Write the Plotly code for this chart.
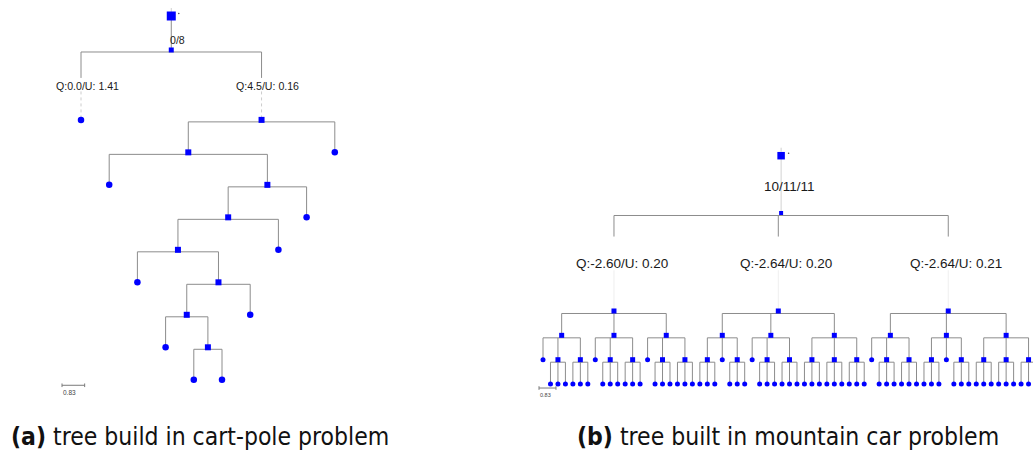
import plotly.graph_objects as go

W, H = 1033, 453

# ---------------- tree data ----------------
# Cart-pole search tree: children of every internal node (leaves are not keys).
CARTPOLE_CHILDREN = {
    "root": ["s"],
    "s": ["q0", "n1"],
    "n1": ["n2", "l1"],
    "n2": ["l2", "n3"],
    "n3": ["n4", "l3"],
    "n4": ["n5", "l4"],
    "n5": ["l5", "n6"],
    "n6": ["n7", "l6"],
    "n7": ["l7", "n8"],
    "n8": ["l8", "l9"],
}
CARTPOLE_LABELS = {"s": "0/8", "q0": "Q:0.0/U: 1.41", "n1": "Q:4.5/U: 0.16"}

# Mountain-car tree: three action nodes under the root; each action node has
# three children given by a pattern ("o" = leaf, "T" = node with three leaves).
MOUNTAIN_ROOT_LABEL = "10/11/11"
MOUNTAIN_ACTION_LABELS = ["Q:-2.60/U: 0.20", "Q:-2.64/U: 0.20", "Q:-2.64/U: 0.21"]
MOUNTAIN_PATTERNS = [["oTT", "oTT", "oTT"],
                     ["ToT", "oTT", "TTT"],
                     ["oTT", "ToT", "TTT"]]

SCALE_VALUE = 0.83      # value printed under the scale bar
BRANCH = 1.19           # distance of an unlabelled branch

CAPTIONS = [("(a)", "tree build in cart-pole problem"),
            ("(b)", "tree built in mountain car problem")]


def build_mountain():
    children = {"root": ["s"]}
    labels = {"s": MOUNTAIN_ROOT_LABEL}
    action_ids = []
    for i, pattern_row in enumerate(MOUNTAIN_PATTERNS):
        a = f"a{i}"
        action_ids.append(a)
        labels[a] = MOUNTAIN_ACTION_LABELS[i]
        children[a] = []
        for j, pattern in enumerate(pattern_row):
            b = f"a{i}_{j}"
            children[a].append(b)
            children[b] = []
            for k, ch in enumerate(pattern):
                c = f"{b}_{k}"
                children[b].append(c)
                if ch == "T":
                    children[c] = [f"{c}_{m}" for m in range(3)]
    children["s"] = action_ids
    return children, labels


MOUNTAIN_CHILDREN, MOUNTAIN_LABELS = build_mountain()

# ---------------- drawing parameters per panel ----------------
PANELS = [
    dict(children=CARTPOLE_CHILDREN, labels=CARTPOLE_LABELS,
         x_px0=81.0, x_step=28.2, y_px0=16.0, ppd=27.3,
         stem=1.245, face=2.56, solid=0.95, drop_px=2.0,
         node_size=6, leaf_size=6.5, root_size=9, s_size=5,
         font=10.6, root_font=10.6, text_dx=6, root_dy=-7.5, text_half=5.5,
         stem_color="#8c8c8c", ext=dict(color="#cccccc", width=1, dash="dot"),
         scale_dx=-19, scale_dy=5.5, scale_font=6.5),
    dict(children=MOUNTAIN_CHILDREN, labels=MOUNTAIN_LABELS,
         x_px0=543.0, x_step=7.47, y_px0=155.7, ppd=20.46,
         stem=2.80, face=4.79, solid=1.03, drop_px=2.5,
         node_size=5, leaf_size=5, root_size=7.5, s_size=4,
         font=13.5, root_font=13.5, text_dx=8, root_dy=-2.5, text_half=7,
         stem_color="#d2d2d2", ext=dict(color="#efefef", width=1),
         scale_dx=-4, scale_dy=4, scale_font=5.5),
]

LINE_COLOR = "#8c8c8c"
BLUE = "#0000ff"


def layout_tree(children, labels, stem, face):
    xs, ys = {}, {}
    counter = [0]

    def place(n, d):
        ys[n] = d
        kids = children.get(n, [])
        if not kids:
            xs[n] = float(counter[0])
            counter[0] += 1
            return
        for k in kids:
            if n == "root":
                bl = stem
            elif k in labels:
                bl = face
            else:
                bl = BRANCH
            place(k, d + bl)
        xs[n] = (xs[kids[0]] + xs[kids[-1]]) / 2.0

    place("root", 0.0)
    return xs, ys


fig = go.Figure()
annotations = []
layout_axes = {}

for idx, P in enumerate(PANELS):
    sfx = "" if idx == 0 else str(idx + 1)
    xref, yref = "x" + sfx, "y" + sfx
    children, labels = P["children"], P["labels"]
    xs, ys = layout_tree(children, labels, P["stem"], P["face"])
    drop = P["drop_px"] / P["ppd"]
    tpx = 1.0 / P["ppd"]

    solid_x, solid_y = [], []
    ext_x, ext_y = [], []
    stem_x, stem_y = [], []
    for n, kids in children.items():
        if n == "root":
            k = kids[0]
            stem_x += [xs[n], xs[k], None]
            stem_y += [ys[n], ys[k], None]
            annotations.append(dict(
                x=xs[k], y=(ys[n] + ys[k]) / 2, xref=xref, yref=yref,
                text=labels[k], showarrow=False, xshift=P["text_dx"], yshift=P["root_dy"],
                font=dict(family="Liberation Sans, Arial, sans-serif",
                          size=P["root_font"], color="#1a1a1a")))
            continue
        bar = ys[n] + drop
        solid_x += [xs[kids[0]], xs[kids[-1]], None]
        solid_y += [bar, bar, None]
        for k in kids:
            if k in labels:
                mid = (bar + ys[k]) / 2
                solid_x += [xs[k], xs[k], None]
                solid_y += [bar, bar + P["solid"], None]
                ext_x += [xs[k], xs[k], None]
                ext_y += [mid + P["text_half"] * tpx, ys[k], None]
                annotations.append(dict(
                    x=xs[k], y=mid, xref=xref, yref=yref, text=labels[k],
                    showarrow=False, xshift=P["text_dx"],
                    font=dict(family="Liberation Sans, Arial, sans-serif",
                              size=P["font"], color="#1a1a1a")))
            else:
                solid_x += [xs[k], xs[k], None]
                solid_y += [bar, ys[k], None]

    # short faint tip above the root and the small mark beside it
    ext_tip = [ys["root"] - 8 * tpx, ys["root"] - 4 * tpx]
    fig.add_trace(go.Scatter(x=[xs["root"], xs["root"]], y=ext_tip, mode="lines",
                             line=dict(color="#cfcfcf", width=1),
                             xaxis=xref, yaxis=yref, hoverinfo="skip"))
    fig.add_trace(go.Scatter(x=ext_x, y=ext_y, mode="lines", line=P["ext"],
                             xaxis=xref, yaxis=yref, hoverinfo="skip"))
    fig.add_trace(go.Scatter(x=stem_x, y=stem_y, mode="lines",
                             line=dict(color=P["stem_color"], width=1),
                             xaxis=xref, yaxis=yref, hoverinfo="skip"))
    fig.add_trace(go.Scatter(x=solid_x, y=solid_y, mode="lines",
                             line=dict(color=LINE_COLOR, width=1),
                             xaxis=xref, yaxis=yref, hoverinfo="skip"))

    leaves = [n for n in xs if n not in children]
    inner = [n for n in xs if n in children and n not in ("root", "s")]
    fig.add_trace(go.Scatter(
        x=[xs[n] for n in inner], y=[ys[n] for n in inner], mode="markers",
        marker=dict(symbol="square", size=P["node_size"], color=BLUE, line=dict(width=0)),
        xaxis=xref, yaxis=yref, hoverinfo="skip"))
    fig.add_trace(go.Scatter(
        x=[xs[n] for n in leaves], y=[ys[n] for n in leaves], mode="markers",
        marker=dict(symbol="circle", size=P["leaf_size"], color=BLUE, line=dict(width=0)),
        xaxis=xref, yaxis=yref, hoverinfo="skip"))
    fig.add_trace(go.Scatter(
        x=[xs["s"]], y=[ys["s"]], mode="markers",
        marker=dict(symbol="square", size=P["s_size"], color=BLUE, line=dict(width=0)),
        xaxis=xref, yaxis=yref, hoverinfo="skip"))
    fig.add_trace(go.Scatter(
        x=[xs["root"]], y=[ys["root"]], mode="markers",
        marker=dict(symbol="square", size=P["root_size"], color=BLUE, line=dict(width=0)),
        xaxis=xref, yaxis=yref, hoverinfo="skip"))
    fig.add_trace(go.Scatter(
        x=[xs["root"] + 7.5 / P["x_step"]], y=[ys["root"] - 2.5 * tpx], mode="markers",
        marker=dict(symbol="circle", size=1.6, color="#555555", line=dict(width=0)),
        xaxis=xref, yaxis=yref, hoverinfo="skip"))

    # scale bar: SCALE_VALUE distance units laid out horizontally
    leaf_first = min(xs[n] for n in leaves)
    deepest = max(ys.values())
    sx0 = leaf_first + P["scale_dx"] / P["x_step"]
    sx1 = sx0 + SCALE_VALUE * P["ppd"] / P["x_step"]
    sy = deepest + P["scale_dy"] * tpx
    tick = 1.8 * tpx
    fig.add_trace(go.Scatter(
        x=[sx0, sx1, None, sx0, sx0, None, sx1, sx1],
        y=[sy, sy, None, sy - tick, sy + tick, None, sy - tick, sy + tick],
        mode="lines", line=dict(color="#7a7a7a", width=1),
        xaxis=xref, yaxis=yref, hoverinfo="skip"))
    annotations.append(dict(
        x=sx0, y=sy + 2 * tpx, xref=xref, yref=yref, text=f"{SCALE_VALUE:.2f}",
        showarrow=False, xanchor="left", yanchor="top", xshift=-1,
        font=dict(family="Liberation Sans, Arial, sans-serif", size=P["scale_font"],
                  color="#444444")))

    ax = dict(domain=[0, 1], visible=False, showgrid=False, zeroline=False,
              range=[-P["x_px0"] / P["x_step"], (W - P["x_px0"]) / P["x_step"]])
    ay = dict(domain=[0, 1], visible=False, showgrid=False, zeroline=False,
              range=[(H - P["y_px0"]) / P["ppd"], -P["y_px0"] / P["ppd"]])
    if idx > 0:
        ax["overlaying"] = "x"
        ay["overlaying"] = "y"
    layout_axes["xaxis" + sfx] = ax
    layout_axes["yaxis" + sfx] = ay

# captions under the panels
CAPTION_CENTERS = [200, 788]
for (tag, text), cx in zip(CAPTIONS, CAPTION_CENTERS):
    annotations.append(dict(
        x=cx / W, y=1 - 436 / H, xref="paper", yref="paper",
        text=f"<b>{tag}</b> {text}", showarrow=False, xanchor="center", yanchor="middle",
        font=dict(family="DejaVu Sans Condensed, DejaVu Sans, sans-serif", size=24.5,
                  color="#111111")))

fig.update_layout(
    width=W, height=H, margin=dict(l=0, r=0, t=0, b=0),
    paper_bgcolor="white", plot_bgcolor="white", showlegend=False,
    annotations=annotations, **layout_axes)

fig.write_html("out.html")
